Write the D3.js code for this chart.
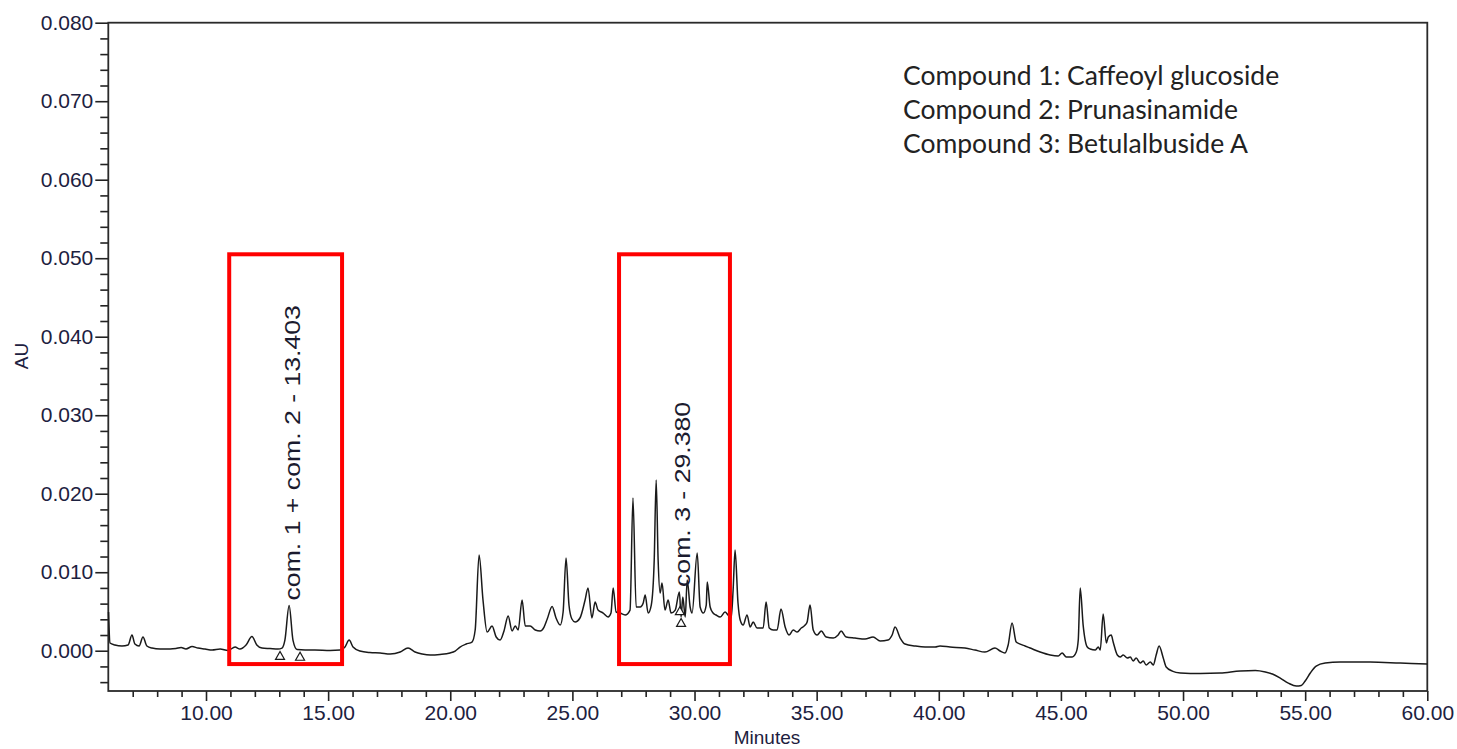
<!DOCTYPE html>
<html>
<head>
<meta charset="utf-8">
<script src="https://cdn.jsdelivr.net/npm/d3@7"></script>
<style>
  html, body { margin: 0; background: #fff; }
  svg { display: block; }
</style>
</head>
<body>
<svg id="chart" width="1457" height="749"></svg>
<script>
// Retention time (minutes) of each sampled point of the chromatogram
const times = [
  6.01,6.07,6.27,6.56,6.81,6.97,7.09,7.26,7.42,7.58,
  7.79,8.12,8.53,8.77,8.98,9.18,9.43,9.67,9.96,10.25,
  10.58,10.90,11.19,11.39,11.64,11.88,12.08,12.29,12.62,12.95,
  13.11,13.23,13.403,13.56,13.73,14.06,14.46,15.08,15.49,15.69,
  15.86,16.02,16.30,16.71,17.13,17.54,17.95,18.27,18.56,18.85,
  19.18,19.58,19.99,20.20,20.40,20.65,20.89,21.02,21.18,21.34,
  21.51,21.71,21.88,22.04,22.20,22.37,22.53,22.66,22.78,22.94,
  23.07,23.27,23.48,23.68,23.84,23.97,24.17,24.33,24.50,24.62,
  24.74,24.86,24.98,25.11,25.31,25.52,25.64,25.80,25.93,26.05,
  26.26,26.46,26.58,26.67,26.79,26.95,27.16,27.36,27.48,27.61,
  27.78,27.90,27.98,28.10,28.23,28.35,28.43,28.51,28.59,28.67,
  28.79,28.92,29.04,29.21,29.38,29.45,29.52,29.62,29.70,29.82,
  29.90,30.11,30.23,30.36,30.48,30.52,30.64,30.76,30.88,31.05,
  31.25,31.37,31.50,31.58,31.66,31.78,31.87,31.99,32.15,32.28,
  32.40,32.56,32.81,32.93,33.06,33.22,33.38,33.54,33.71,33.87,
  34.04,34.20,34.37,34.53,34.61,34.73,34.86,35.02,35.19,35.39,
  35.68,35.88,36.00,36.21,36.57,36.98,37.31,37.60,37.92,38.09,
  38.21,38.42,38.62,39.03,39.44,39.85,40.05,40.46,41.07,41.48,
  41.89,42.30,42.51,42.71,42.84,43.00,43.17,43.33,43.53,43.74,
  44.15,44.56,44.89,45.05,45.22,45.46,45.63,45.71,45.79,45.91,
  46.08,46.20,46.41,46.53,46.61,46.73,46.86,46.94,47.06,47.14,
  47.31,47.43,47.55,47.72,47.84,47.96,48.08,48.25,48.37,48.49,
  48.66,48.78,48.90,49.02,49.19,49.31,49.56,49.89,50.30,50.71,
  51.52,52.34,52.96,53.37,53.66,53.98,54.31,54.64,54.84,55.00,
  55.21,55.45,55.82,56.43,57.66,58.89,60.00
];

// Detector signal at each time, in milli-absorbance units
const absorbanceMilliAU = [
  4.93,0.98,0.73,0.60,0.73,2.00,0.85,0.60,1.75,0.60,
  0.34,0.22,0.22,0.28,0.41,0.22,0.54,0.34,0.22,0.09,
  0.22,0.03,0.47,0.22,0.73,1.81,0.73,0.34,0.28,0.22,
  0.34,1.36,5.76,1.36,0.15,0.09,0.09,0.03,0.09,0.47,
  1.36,0.47,-0.04,-0.23,-0.29,-0.42,-0.17,0.34,-0.17,-0.42,
  -0.55,-0.48,-0.29,-0.04,0.47,0.85,1.11,2.64,12.19,6.46,
  2.38,3.15,1.75,1.36,2.52,4.43,2.52,3.15,2.64,6.46,
  3.15,3.15,2.64,2.52,3.02,4.04,5.64,4.17,3.27,4.93,
  11.81,5.82,4.04,3.66,4.17,6.46,7.99,4.17,6.20,5.18,
  4.80,4.29,4.80,7.99,4.93,4.80,4.55,5.18,19.45,5.57,
  5.57,6.08,7.10,4.80,5.82,11.55,21.75,11.55,7.35,8.62,
  5.18,6.46,4.80,5.18,7.48,4.29,6.84,4.29,9.01,5.57,
  4.80,12.45,5.57,4.80,5.82,8.75,5.57,4.80,4.55,4.29,
  4.93,4.55,4.17,7.73,12.83,6.08,3.91,3.27,4.55,3.02,
  3.66,2.89,2.89,6.20,2.89,2.64,2.64,5.31,3.02,2.00,
  2.64,2.38,2.89,3.27,3.66,5.82,2.64,2.00,2.51,1.75,
  1.62,2.00,2.51,1.75,1.62,1.49,1.75,1.24,1.36,2.00,
  3.02,1.62,0.85,0.60,0.47,0.47,0.60,0.47,0.34,0.09,
  -0.17,0.34,-0.04,-0.29,0.73,3.53,1.11,0.85,0.60,0.34,
  -0.17,-0.55,-0.68,-0.29,-0.80,-0.80,-0.17,1.36,7.99,3.27,
  0.47,0.22,0.09,0.47,0.09,4.67,0.98,1.75,2.00,1.11,
  -0.55,-0.80,-0.55,-0.93,-0.80,-1.31,-0.93,-1.57,-1.31,-1.82,
  -1.44,-1.82,-0.55,0.60,-0.93,-2.08,-2.59,-2.84,-2.90,-2.90,
  -2.84,-2.59,-2.52,-2.71,-2.97,-3.48,-4.12,-4.50,-4.43,-3.86,
  -2.84,-1.95,-1.57,-1.44,-1.44,-1.57,-1.69
];

// Axis ticks
const xMajorTicks = [10, 15, 20, 25, 30, 35, 40, 45, 50, 55, 60];
const xMinorTicks = d3.range(7, 61, 1).filter(t => t % 5 !== 0);
const yMajorTicks = [0, 0.01, 0.02, 0.03, 0.04, 0.05, 0.06, 0.07, 0.08];
const yMinorTicks = [-0.004, -0.002, 0.002, 0.004, 0.006, 0.008, 0.012, 0.014, 0.016, 0.018,
  0.022, 0.024, 0.026, 0.028, 0.032, 0.034, 0.036, 0.038, 0.042, 0.044, 0.046, 0.048,
  0.052, 0.054, 0.056, 0.058, 0.062, 0.064, 0.066, 0.068, 0.072, 0.074, 0.076, 0.078];

// Identified peaks (retention time in minutes)
const peakNames = ["com. 1 + com. 2 - 13.403", "com. 3 - 29.380"];
const peakTimes = [13.403, 29.380];

// Integration start / end markers: time and signal level (AU)
const markerTimes = [13.03, 13.85, 29.40, 29.45];
const markerLevels = [0.0001, 0.0000, 0.0058, 0.0043];

// Highlight windows around the identified peaks
const windowStart = [10.95, 26.91];
const windowEnd = [15.57, 31.45];
const windowTop = 0.0505;
const windowBottom = -0.0017;

const compoundNotes = [
  "Compound 1: Caffeoyl glucoside",
  "Compound 2: Prunasinamide",
  "Compound 3: Betulalbuside A"
];

const absorbance = absorbanceMilliAU.map(v => v / 1000);

const svg = d3.select("#chart");
const plot = { left: 108.3, right: 1427.3, top: 22.7, bottom: 691 };

const x = d3.scaleLinear().domain([6, 60]).range([plot.left, plot.right]);
const y = d3.scaleLinear().domain([-0.00513, 0.08]).range([plot.bottom, plot.top]);

const tickFont = "'Liberation Sans', Arial, sans-serif";
const tickColor = "#1d2140";

// Y axis: minor ticks then labelled major ticks
const yMinor = svg.append("g")
  .attr("transform", `translate(${plot.left},0)`)
  .call(d3.axisLeft(y).tickValues(yMinorTicks).tickSize(8).tickFormat(""));
const yMajor = svg.append("g")
  .attr("transform", `translate(${plot.left},0)`)
  .call(d3.axisLeft(y).tickValues(yMajorTicks).tickSize(13).tickPadding(2).tickFormat(d3.format(".3f")));

// X axis: minor ticks then labelled major ticks
const xMinor = svg.append("g")
  .attr("transform", `translate(0,${plot.bottom})`)
  .call(d3.axisBottom(x).tickValues(xMinorTicks).tickSize(6).tickFormat(""));
const xMajor = svg.append("g")
  .attr("transform", `translate(0,${plot.bottom})`)
  .call(d3.axisBottom(x).tickValues(xMajorTicks).tickSize(10).tickPadding(4).tickFormat(d3.format(".2f")));

[yMinor, yMajor, xMinor, xMajor].forEach(g => {
  g.select(".domain").remove();
  g.selectAll(".tick line").attr("stroke", "#222").attr("stroke-width", 1.6);
  g.selectAll("text")
    .attr("font-family", tickFont)
    .attr("font-size", 21)
    .attr("fill", tickColor);
});

// Plot frame
svg.append("rect")
  .attr("x", plot.left).attr("y", plot.top)
  .attr("width", plot.right - plot.left)
  .attr("height", plot.bottom - plot.top)
  .attr("fill", "none")
  .attr("stroke", "#2a2a2a")
  .attr("stroke-width", 1.8);

// Axis titles
svg.append("text")
  .attr("transform", `translate(28,356) rotate(-90)`)
  .attr("text-anchor", "middle")
  .attr("font-family", tickFont)
  .attr("font-size", 19)
  .attr("fill", tickColor)
  .text("AU");

svg.append("text")
  .attr("x", 767).attr("y", 744)
  .attr("text-anchor", "middle")
  .attr("font-family", tickFont)
  .attr("font-size", 19)
  .attr("fill", tickColor)
  .text("Minutes");

// Chromatogram trace
const line = d3.line()
  .x(i => x(times[i]))
  .y(i => y(absorbance[i]))
  .curve(d3.curveMonotoneX);

svg.append("path")
  .datum(d3.range(times.length))
  .attr("d", line)
  .attr("fill", "none")
  .attr("stroke", "#1a1a1a")
  .attr("stroke-width", 1.5)
  .attr("stroke-linejoin", "round");

// Integration markers (open triangles under the peaks)
svg.append("g").selectAll("path")
  .data(markerTimes.map((t, i) => ({ t, level: markerLevels[i] })))
  .join("path")
  .attr("d", d => {
    const cx = x(d.t), top = y(d.level) + 1.5;
    return `M${cx},${top} L${cx - 4.5},${top + 8} L${cx + 4.5},${top + 8} Z`;
  })
  .attr("fill", "#fff")
  .attr("stroke", "#1a1a1a")
  .attr("stroke-width", 1.2);

// Peak labels, written upward from just above each peak apex
peakTimes.forEach((t, i) => {
  const idx = times.indexOf(t);
  const apex = y(absorbance[idx]);
  svg.append("text")
    .attr("transform", `translate(${x(t) + 10.5},${apex - 5}) rotate(-90) scale(1.24,1)`)
    .attr("text-anchor", "start")
    .attr("font-family", tickFont)
    .attr("font-size", 21.5)
    .attr("fill", "#1b1b2e")
    .text(peakNames[i]);
});

// Highlight windows
svg.append("g").selectAll("rect")
  .data(windowStart.map((s, i) => ({ s, e: windowEnd[i] })))
  .join("rect")
  .attr("x", d => x(d.s))
  .attr("y", y(windowTop))
  .attr("width", d => x(d.e) - x(d.s))
  .attr("height", y(windowBottom) - y(windowTop))
  .attr("fill", "none")
  .attr("stroke", "#ff0000")
  .attr("stroke-width", 4);

// Compound key
svg.append("g").selectAll("text")
  .data(compoundNotes)
  .join("text")
  .attr("x", 903)
  .attr("y", (d, i) => 85 + i * 34)
  .attr("font-family", "Lato, 'Open Sans', sans-serif")
  .attr("font-size", 26.5)
  .attr("fill", "#222")
  .text(d => d);
</script>
</body>
</html>
